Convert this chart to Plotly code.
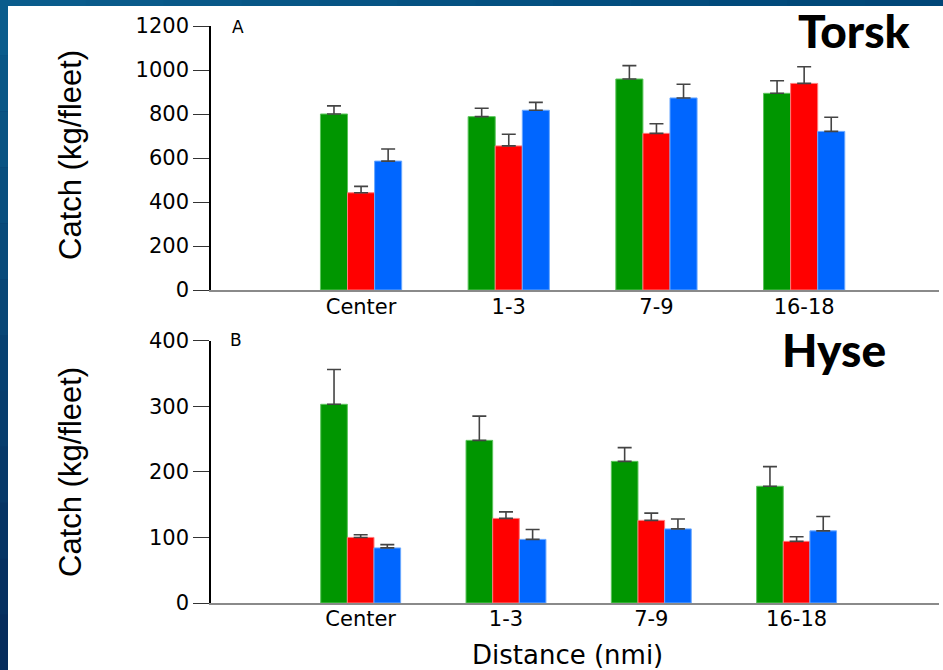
import plotly.graph_objects as go
from plotly.subplots import make_subplots

categories = ["Center", "1-3", "7-9", "16-18"]

torsk_green = [800, 788, 959, 894]
torsk_red = [442, 655, 712, 939]
torsk_blue = [586, 817, 873, 721]
torsk_green_err = [37, 38, 61, 57]
torsk_red_err = [29, 53, 44, 76]
torsk_blue_err = [55, 36, 62, 64]

hyse_green = [303, 248, 216, 178]
hyse_red = [100, 129, 126, 94]
hyse_blue = [84, 97, 113, 110]
hyse_green_err = [53, 37, 21, 30]
hyse_red_err = [4, 10, 11, 7]
hyse_blue_err = [5, 15, 15, 22]

top_ticks = [0, 200, 400, 600, 800, 1000, 1200]
bottom_ticks = [0, 100, 200, 300, 400]

W, H = 943, 670
L, R, T, B = 211, 4, 26, 67
PW, PH = W - L - R, H - T - B


def px(x):
    return (x - L) / PW


def py(y):
    return (H - B - y) / PH


colors = ["#009600", "#FF0000", "#0066FF"]
lines = ["#5cc45c", "#ff7a7a", "#6aa8ff"]

fig = make_subplots(rows=2, cols=1, vertical_spacing=0.0)

sets = [
    (1, [torsk_green, torsk_red, torsk_blue], [torsk_green_err, torsk_red_err, torsk_blue_err]),
    (2, [hyse_green, hyse_red, hyse_blue], [hyse_green_err, hyse_red_err, hyse_blue_err]),
]
for row, vals, errs in sets:
    for i in range(3):
        fig.add_trace(
            go.Bar(
                x=categories,
                y=vals[i],
                marker=dict(color=colors[i], line=dict(color=lines[i], width=1)),
                error_y=dict(type="data", array=errs[i], arrayminus=[0] * 4,
                             symmetric=False, color="#444444", thickness=1.6, width=7),
                showlegend=False,
            ),
            row=row, col=1,
        )

top_dom = [py(290), 1.0]
bot_dom = [0.0, py(340.7)]

tickfont = dict(family="DejaVu Sans, sans-serif", size=21, color="black")

fig.update_layout(
    width=W, height=H,
    margin=dict(l=L, r=R, t=T, b=B, autoexpand=False),
    paper_bgcolor="#0a3a6c",
    plot_bgcolor="rgba(0,0,0,0)",
    barmode="group",
    bargap=0.45,
    bargroupgap=0,
    xaxis=dict(domain=[0, 1], anchor="y", type="category", range=[-1.016, 3.913],
               showgrid=False, showline=True, linecolor="#8a8a8a", linewidth=2,
               ticks="", tickfont=tickfont, zeroline=False, ticklabelstandoff=-3),
    yaxis=dict(domain=top_dom, anchor="x", range=[0, 1200], tickvals=top_ticks,
               showgrid=False, showline=True, linecolor="black", linewidth=1.5,
               ticks="outside", ticklen=16, tickcolor="#333333", tickwidth=1.2,
               tickfont=tickfont, zeroline=False),
    xaxis2=dict(domain=[0, 1], anchor="y2", type="category", range=[-1.03, 3.98],
                showgrid=False, showline=True, linecolor="#8a8a8a", linewidth=2,
                ticks="", tickfont=tickfont, zeroline=False, ticklabelstandoff=-4),
    yaxis2=dict(domain=bot_dom, anchor="x2", range=[0, 400], tickvals=bottom_ticks,
                showgrid=False, showline=True, linecolor="black", linewidth=1.5,
                ticks="outside", ticklen=16, tickcolor="#333333", tickwidth=1.2,
                tickfont=tickfont, zeroline=False),
)

# background: white panel with blue gradient border
shapes = [dict(type="rect", xref="paper", yref="paper", x0=px(8), x1=px(W + 2),
               y0=py(H + 2), y1=py(6), fillcolor="white", line=dict(width=0), layer="below")]
n = 12
c0 = (10, 92, 140)
c1 = (6, 44, 92)
for k in range(n):
    t = k / (n - 1)
    c = tuple(int(c0[j] + (c1[j] - c0[j]) * t) for j in range(3))
    y0p = k * H / n
    y1p = (k + 1) * H / n
    shapes.append(dict(type="rect", xref="paper", yref="paper", x0=px(-2), x1=px(8),
                       y0=py(y1p), y1=py(y0p), fillcolor="rgb(%d,%d,%d)" % c,
                       line=dict(width=0), layer="below"))
for k in range(n):
    t = k / (n - 1)
    ca = (10, 92, 140)
    cb = (0, 70, 120)
    c = tuple(int(ca[j] + (cb[j] - ca[j]) * t) for j in range(3))
    x0p = 8 + k * (W - 8) / n
    x1p = 8 + (k + 1) * (W - 8) / n
    shapes.append(dict(type="rect", xref="paper", yref="paper", x0=px(x0p), x1=px(x1p + 1),
                       y0=py(6), y1=py(-2), fillcolor="rgb(%d,%d,%d)" % c,
                       line=dict(width=0), layer="below"))
fig.update_layout(shapes=shapes)

ann_font = dict(family="DejaVu Sans, sans-serif", color="black")
narrow = dict(family="Liberation Sans Narrow, Arial Narrow, Liberation Sans, sans-serif",
              size=31, color="black")
fig.add_annotation(text="Catch (kg/fleet)", xref="paper", yref="paper", x=px(70), y=py(155),
                   textangle=-90, showarrow=False, font=narrow, xanchor="center", yanchor="middle")
fig.add_annotation(text="Catch (kg/fleet)", xref="paper", yref="paper", x=px(70), y=py(472),
                   textangle=-90, showarrow=False, font=narrow, xanchor="center", yanchor="middle")
fig.add_annotation(text="Distance (nmi)", xref="paper", yref="paper", x=px(567), y=py(655),
                   showarrow=False, font=dict(ann_font, size=26), xanchor="center", yanchor="middle")
fig.add_annotation(text="A", xref="paper", yref="paper", x=px(238), y=py(27),
                   showarrow=False, font=dict(ann_font, size=17), xanchor="center", yanchor="middle")
fig.add_annotation(text="B", xref="paper", yref="paper", x=px(236), y=py(340),
                   showarrow=False, font=dict(ann_font, size=17), xanchor="center", yanchor="middle")
title_font = dict(family="Lato, Open Sans, sans-serif", size=46, color="black", weight=900)
fig.add_annotation(text="Torsk", xref="paper", yref="paper", x=px(854), y=py(30),
                   showarrow=False, font=title_font, xanchor="center", yanchor="middle")
fig.add_annotation(text="Hyse", xref="paper", yref="paper", x=px(834), y=py(350),
                   showarrow=False, font=title_font, xanchor="center", yanchor="middle")

fig.write_html("out.html")
